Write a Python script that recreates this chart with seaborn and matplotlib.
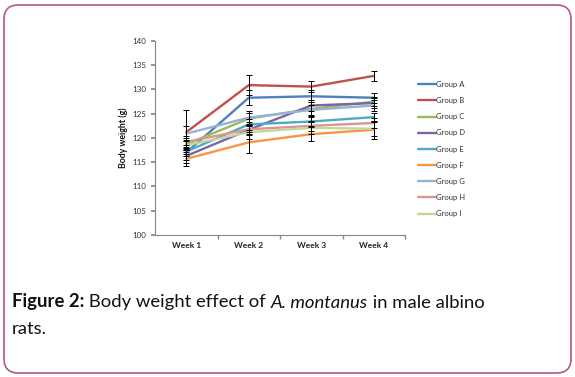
import matplotlib
matplotlib.use("Agg")
import matplotlib.pyplot as plt
import seaborn as sns
import pandas as pd
import numpy as np
from matplotlib.patches import FancyBboxPatch
from matplotlib.lines import Line2D

weeks = ["Week 1", "Week 2", "Week 3", "Week 4"]
groups = ["Group A", "Group B", "Group C", "Group D", "Group E",
          "Group F", "Group G", "Group H", "Group I"]
group_a = [117.0, 128.3, 128.6, 128.3]
group_b = [121.2, 130.9, 130.6, 132.8]
group_c = [118.7, 124.0, 126.0, 127.5]
group_d = [116.3, 121.7, 126.7, 127.2]
group_e = [117.2, 122.8, 123.4, 124.3]
group_f = [115.7, 119.1, 120.8, 121.7]
group_g = [120.9, 124.2, 125.8, 126.7]
group_h = [119.2, 121.8, 122.5, 123.1]
group_i = [118.5, 121.2, 122.1, 121.9]
err_a = [1.5, 1.5, 1.2, 1.0]
err_b = [4.5, 2.0, 1.1, 1.0]
err_c = [1.2, 1.5, 1.5, 1.0]
err_d = [1.5, 1.0, 1.2, 1.0]
err_e = [1.0, 1.2, 1.0, 0.8]
err_f = [1.5, 2.1, 1.5, 1.9]
err_g = [1.5, 1.0, 1.0, 1.2]
err_h = [1.2, 1.0, 1.0, 1.0]
err_i = [1.0, 1.5, 1.2, 1.5]

values = [group_a, group_b, group_c, group_d, group_e, group_f, group_g, group_h, group_i]
errors = [err_a, err_b, err_c, err_d, err_e, err_f, err_g, err_h, err_i]
colors = ["#4F81BD", "#C0504D", "#9BBB59", "#8064A2", "#4BACC6",
          "#F79646", "#95B3D7", "#D99694", "#C3D69B"]

rows = []
for g, vals, errs in zip(groups, values, errors):
    for w, v, e in zip(weeks, vals, errs):
        rows.append({"Week": w, "Group": g, "Weight": v, "Err": e})
df = pd.DataFrame(rows)
df["Week"] = pd.Categorical(df["Week"], categories=weeks, ordered=True)
df["x"] = df["Week"].cat.codes

sns.set_theme(style="white")
plt.rcParams["font.family"] = ["Lato", "DejaVu Sans"]

fig = plt.figure(figsize=(5.75, 3.77), dpi=100)
ax = fig.add_axes([155/575, 1-235/377, 250/575, 194/377])

sns.lineplot(data=df, x="x", y="Weight", hue="Group", palette=colors,
             linewidth=1.7, ax=ax, legend=False, sort=False)
ax.errorbar(df["x"], df["Weight"], yerr=df["Err"], fmt="none",
            ecolor="black", elinewidth=0.7, capsize=2.2, capthick=0.7, zorder=5)

ax.set_xlim(-0.5, 3.5)
ax.set_ylim(100, 140)
ax.set_yticks(np.arange(100, 141, 5))
ax.set_xticks(range(len(weeks)))
ax.set_xticklabels(weeks, fontsize=6, fontweight="bold", color="#222222")
ax.set_xticks([0.5, 1.5, 2.5, 3.5], minor=True)
ax.tick_params(axis="x", which="major", length=0, pad=5)
ax.tick_params(axis="x", which="minor", length=3, color="#868686", direction="out", bottom=True)
ax.tick_params(axis="y", labelsize=5.8, length=3, color="#868686", direction="out", left=True, labelcolor="#333333", pad=3)
ax.set_xlabel("")
ax.set_ylabel("Body weight (g)", fontsize=6.3, fontweight="bold", color="#111111", labelpad=3)
for s in ["top", "right"]:
    ax.spines[s].set_visible(False)
for s in ["left", "bottom"]:
    ax.spines[s].set_color("#868686")
    ax.spines[s].set_linewidth(0.8)
ax.grid(False)

handles = [Line2D([0], [0], color=c, lw=1.7) for c in colors]
fig.legend(handles, groups, loc="upper left", bbox_to_anchor=(418/575, 1-81/377),
           frameon=False, fontsize=5.5, handlelength=2.3, handletextpad=0.1,
           labelspacing=1.2, borderpad=0, borderaxespad=0, labelcolor="#333333")

border = FancyBboxPatch((4/575, 4/377), 567/575, 368/377,
                        boxstyle="round,pad=0,rounding_size=0.025",
                        transform=fig.transFigure, fill=False,
                        edgecolor="#B5558F", linewidth=1.2, mutation_aspect=575/377)
fig.patches.append(border)

fs = 13.3
t1 = fig.text(12/575, 1-302/377, "Figure 2:", fontsize=fs, fontweight="bold", va="center", color="#111111")
ann2 = ax.annotate(" Body weight effect of ", xy=(1, 0), xycoords=t1, va="bottom", ha="left",
                   fontsize=fs, color="#111111", annotation_clip=False)
ann3 = ax.annotate("A. montanus", xy=(1, 0), xycoords=ann2, va="bottom", ha="left",
                   fontsize=fs, style="italic", color="#111111", annotation_clip=False)
ann4 = ax.annotate(" in male albino", xy=(1, 0), xycoords=ann3, va="bottom", ha="left",
                   fontsize=fs, color="#111111", annotation_clip=False)
fig.text(12/575, 1-329/377, "rats.", fontsize=fs, va="center", color="#111111")

fig.savefig("out.png", dpi=100)
